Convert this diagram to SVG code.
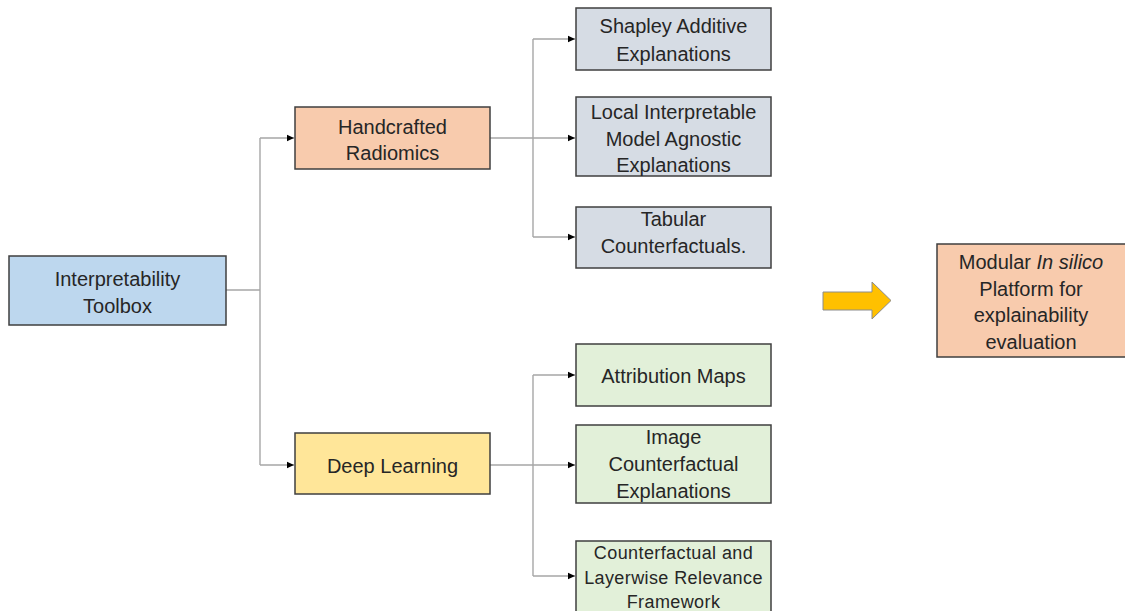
<svg xmlns="http://www.w3.org/2000/svg" width="1125" height="611" viewBox="0 0 1125 611">
<defs>
<marker id="ah" markerWidth="8" markerHeight="8" refX="7" refY="4" orient="auto" markerUnits="userSpaceOnUse">
<path d="M0,0.8 L7,4 L0,7.2 Z" fill="#000"/>
</marker>
<style>
.box{stroke:#3f3f3f;stroke-width:1.5}
.blue{fill:#BDD7EE}
.orange{fill:#F8CBAD}
.yellow{fill:#FFE699}
.gray{fill:#D6DCE4}
.green{fill:#E2F0D9}
text{font-family:"Liberation Sans",Arial,sans-serif;font-size:20px;fill:#262626;text-anchor:middle}
.sm{font-size:18px;letter-spacing:0.4px}
.conn{fill:none;stroke:#a6a6a6;stroke-width:1.4}
</style>
</defs>
<rect width="1125" height="611" fill="#fff"/>
<g id="connectors">
<path class="conn" d="M226,290 H260"/>
<path class="conn" d="M260,138 V465"/>
<path class="conn" d="M260,138 H294" marker-end="url(#ah)"/>
<path class="conn" d="M260,465 H294" marker-end="url(#ah)"/>
<path class="conn" d="M490,138 H533"/>
<path class="conn" d="M533,39 V237"/>
<path class="conn" d="M533,39 H575" marker-end="url(#ah)"/>
<path class="conn" d="M533,138 H575" marker-end="url(#ah)"/>
<path class="conn" d="M533,237 H575" marker-end="url(#ah)"/>
<path class="conn" d="M490,465 H533"/>
<path class="conn" d="M533,375 V576"/>
<path class="conn" d="M533,375 H575" marker-end="url(#ah)"/>
<path class="conn" d="M533,465 H575" marker-end="url(#ah)"/>
<path class="conn" d="M533,576 H575" marker-end="url(#ah)"/>
</g>
<g id="toolbox">
<rect class="box blue" x="9" y="256" width="217" height="69"/>
<text x="117.5" y="286">Interpretability</text>
<text x="117.5" y="313">Toolbox</text>
</g>
<g id="handcrafted">
<rect class="box orange" x="295" y="107" width="195" height="62"/>
<text x="392.5" y="133.5">Handcrafted</text>
<text x="392.5" y="160">Radiomics</text>
</g>
<g id="deep">
<rect class="box yellow" x="295" y="433" width="195" height="61"/>
<text x="392.5" y="473">Deep Learning</text>
</g>
<g id="shapley">
<rect class="box gray" x="576" y="8" width="195" height="62"/>
<text x="673.5" y="33">Shapley Additive</text>
<text x="673.5" y="61">Explanations</text>
</g>
<g id="lime">
<rect class="box gray" x="576" y="97" width="195" height="79"/>
<text x="673.5" y="119">Local Interpretable</text>
<text x="673.5" y="145.5">Model Agnostic</text>
<text x="673.5" y="172">Explanations</text>
</g>
<g id="tabular">
<rect class="box gray" x="576" y="207" width="195" height="61"/>
<text x="673.5" y="226">Tabular</text>
<text x="673.5" y="253">Counterfactuals.</text>
</g>
<g id="attribution">
<rect class="box green" x="576" y="344" width="195" height="62"/>
<text x="673.5" y="383">Attribution Maps</text>
</g>
<g id="imagecf">
<rect class="box green" x="576" y="425" width="195" height="78"/>
<text x="673.5" y="444">Image</text>
<text x="673.5" y="471">Counterfactual</text>
<text x="673.5" y="498">Explanations</text>
</g>
<g id="cflrp">
<rect class="box green" x="576" y="541" width="195" height="72"/>
<text class="sm" x="673.5" y="559">Counterfactual and</text>
<text class="sm" x="673.5" y="584">Layerwise Relevance</text>
<text class="sm" x="673.5" y="608">Framework</text>
</g>
<g id="bigarrow">
<path d="M823,292 H872 V282 L891,300.5 L872,319 V310 H823 Z" fill="#FFC000" stroke="#8c8c8c" stroke-width="1"/>
</g>
<g id="platform">
<rect class="box orange" x="937" y="244" width="190" height="113"/>
<text x="1031" y="269">Modular <tspan font-style="italic">In silico</tspan></text>
<text x="1031" y="296">Platform for</text>
<text x="1031" y="322">explainability</text>
<text x="1031" y="349">evaluation</text>
</g>
</svg>
